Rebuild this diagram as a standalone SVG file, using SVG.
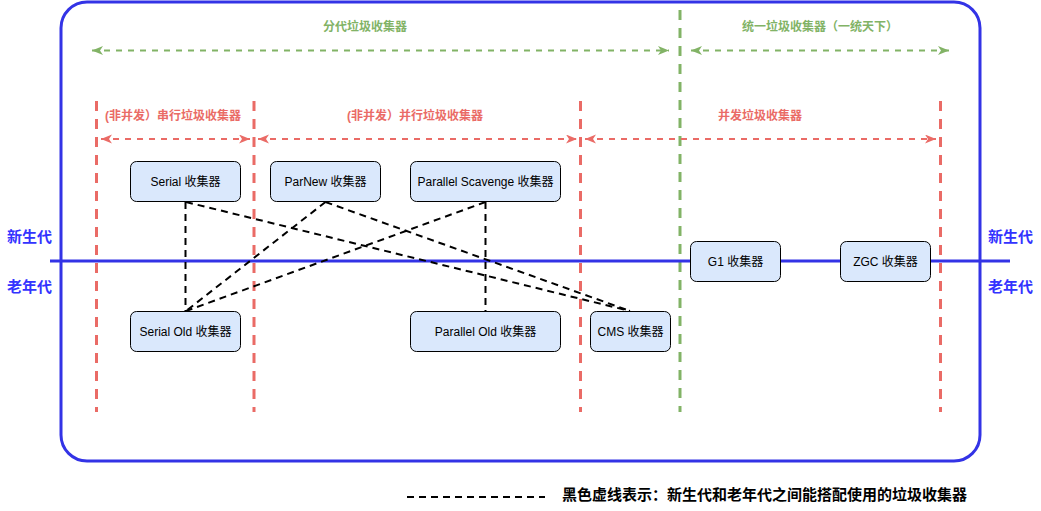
<svg xmlns="http://www.w3.org/2000/svg" width="1041" height="511" viewBox="0 0 1041 511">
  <style>
    text { font-family: "Liberation Sans", "Noto Sans CJK SC", sans-serif; }
    .node rect { fill: #dae8fc; stroke: #000000; stroke-width: 1; }
    .node text { font-size: 12px; fill: #000000; text-anchor: middle; }
    .red { stroke: #ea6b66; fill: none; }
    .green { stroke: #82b366; fill: none; }
    .vline { stroke-width: 3; stroke-dasharray: 10 8; }
    .harrow { stroke-width: 2; stroke-dasharray: 6 6; }
    .blk { stroke: #000000; stroke-width: 2; stroke-dasharray: 7 5; fill: none; }
    .lblr { font-size: 12px; font-weight: bold; fill: #ea6b66; text-anchor: middle; }
    .lblg { font-size: 12px; font-weight: bold; fill: #82b366; text-anchor: middle; }
    .side { font-size: 15px; font-weight: bold; fill: #3333ff; }
  </style>
  <defs>
    <marker id="ar" markerUnits="userSpaceOnUse" markerWidth="12" markerHeight="10" refX="11" refY="4.5" orient="auto-start-reverse">
      <path d="M0,0 L11,4.5 L0,9 L3,4.5 z" fill="#ea6b66"/>
    </marker>
    <marker id="ag" markerUnits="userSpaceOnUse" markerWidth="12" markerHeight="10" refX="11" refY="4.5" orient="auto-start-reverse">
      <path d="M0,0 L11,4.5 L0,9 L3,4.5 z" fill="#82b366"/>
    </marker>
  </defs>

  <rect width="1041" height="511" fill="#ffffff"/>

  <g id="frame">
    <rect x="61" y="2" width="919" height="459" rx="26" ry="26" fill="none" stroke="#3333e6" stroke-width="3"/>
  </g>

  <g id="dividers">
    <line class="red vline" x1="96.5" y1="101" x2="96.5" y2="412"/>
    <line class="red vline" x1="254" y1="101" x2="254" y2="412"/>
    <line class="red vline" x1="580.5" y1="101" x2="580.5" y2="412"/>
    <line class="red vline" x1="940.5" y1="101" x2="940.5" y2="412"/>
    <line class="green vline" x1="680" y1="10" x2="680" y2="412"/>
  </g>

  <g id="ranges">
    <line class="green harrow" x1="92" y1="50.5" x2="669" y2="50.5" marker-start="url(#ag)" marker-end="url(#ag)"/>
    <line class="green harrow" x1="691" y1="50.5" x2="949" y2="50.5" marker-start="url(#ag)" marker-end="url(#ag)"/>
    <line class="red harrow" x1="101" y1="139" x2="250" y2="139" marker-start="url(#ar)" marker-end="url(#ar)"/>
    <line class="red harrow" x1="258" y1="139" x2="577" y2="139" marker-start="url(#ar)" marker-end="url(#ar)"/>
    <line class="red harrow" x1="585" y1="139" x2="936" y2="139" marker-start="url(#ar)" marker-end="url(#ar)"/>
    <text class="lblg" x="365" y="31">分代垃圾收集器</text>
    <text class="lblg" x="820" y="31">统一垃圾收集器（一统天下）</text>
    <text class="lblr" x="173" y="120">(非并发）串行垃圾收集器</text>
    <text class="lblr" x="415" y="120">(非并发）并行垃圾收集器</text>
    <text class="lblr" x="760" y="120">并发垃圾收集器</text>
  </g>

  <g id="generation-axis">
    <line x1="50" y1="261" x2="1010" y2="261" stroke="#3333e6" stroke-width="3"/>
    <text class="side" x="7" y="242">新生代</text>
    <text class="side" x="7" y="292">老年代</text>
    <text class="side" x="988" y="242">新生代</text>
    <text class="side" x="988" y="292">老年代</text>
  </g>

  <g id="connectors">
    <line class="blk" x1="185.5" y1="202" x2="185.5" y2="311"/>
    <line class="blk" x1="186" y1="202" x2="630" y2="311"/>
    <line class="blk" x1="325.5" y1="202" x2="186" y2="311"/>
    <line class="blk" x1="325.5" y1="202" x2="630" y2="311"/>
    <line class="blk" x1="485.5" y1="202" x2="186" y2="311"/>
    <line class="blk" x1="485.5" y1="202" x2="485.5" y2="311"/>
  </g>

  <g id="serial" class="node">
    <rect x="130.5" y="161.5" width="110" height="40" rx="6"/>
    <text x="185.5" y="186">Serial 收集器</text>
  </g>
  <g id="parnew" class="node">
    <rect x="270.5" y="161.5" width="110" height="40" rx="6"/>
    <text x="325.5" y="186">ParNew 收集器</text>
  </g>
  <g id="parallel-scavenge" class="node">
    <rect x="410.5" y="161.5" width="150" height="40" rx="6"/>
    <text x="485.5" y="186">Parallel Scavenge 收集器</text>
  </g>
  <g id="serial-old" class="node">
    <rect x="130.5" y="311.5" width="110" height="40" rx="6"/>
    <text x="185.5" y="336">Serial Old 收集器</text>
  </g>
  <g id="parallel-old" class="node">
    <rect x="410.5" y="311.5" width="150" height="40" rx="6"/>
    <text x="485.5" y="336">Parallel Old 收集器</text>
  </g>
  <g id="cms" class="node">
    <rect x="590.5" y="311.5" width="80" height="40" rx="6"/>
    <text x="630.5" y="336">CMS 收集器</text>
  </g>
  <g id="g1" class="node">
    <rect x="690.5" y="241.5" width="90" height="40" rx="6"/>
    <text x="735.5" y="266">G1 收集器</text>
  </g>
  <g id="zgc" class="node">
    <rect x="840.5" y="241.5" width="90" height="40" rx="6"/>
    <text x="885.5" y="266">ZGC 收集器</text>
  </g>

  <g id="legend">
    <line class="blk" x1="407" y1="497" x2="545" y2="497"/>
    <text x="562" y="500" font-size="15" font-weight="bold" fill="#000000">黑色虚线表示：新生代和老年代之间能搭配使用的垃圾收集器</text>
  </g>
</svg>
